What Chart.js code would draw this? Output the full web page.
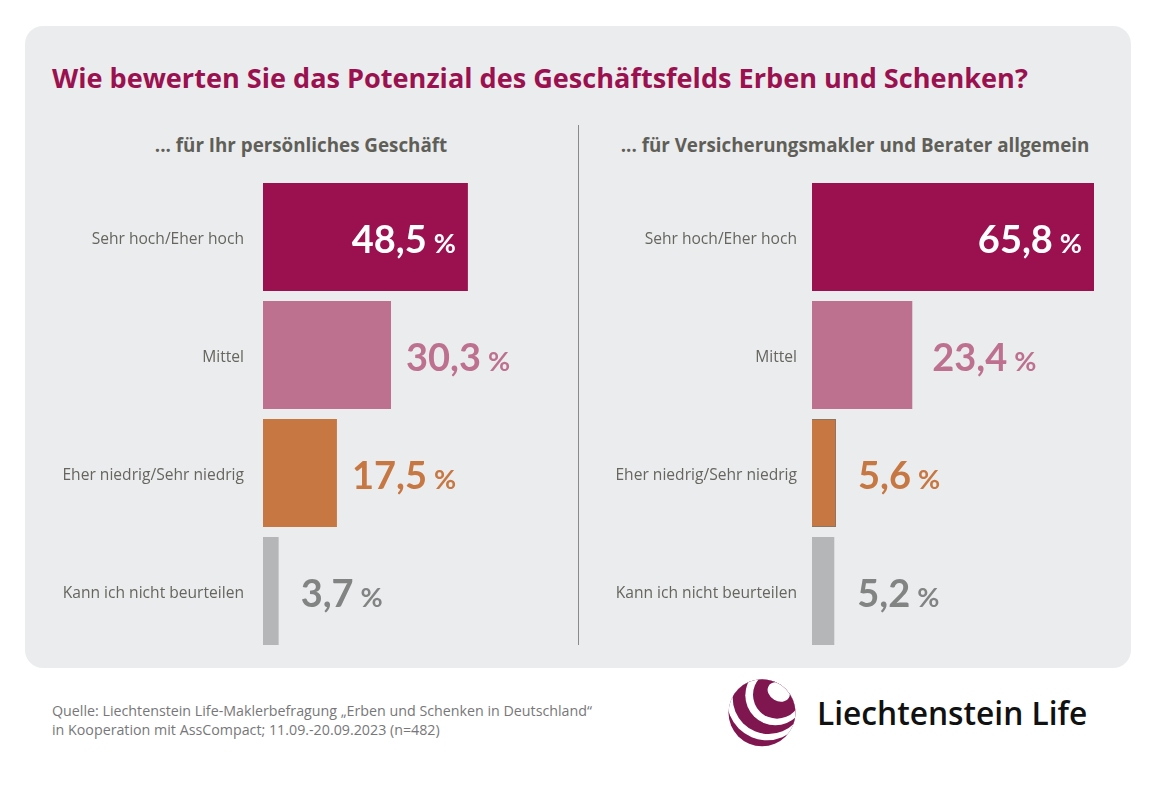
<!DOCTYPE html>
<html lang="de">
<head>
<meta charset="utf-8">
<title>Erben und Schenken</title>
<script src="https://cdn.jsdelivr.net/npm/chart.js@4"></script>
<style>
  html, body { margin: 0; padding: 0; background: #fff; }
  body { position: relative; width: 1156px; height: 787px; overflow: hidden; font-family: "Open Sans", sans-serif; }
  #panel { position: absolute; left: 25px; top: 26px; width: 1106px; height: 642px; background: #ebecee; border-radius: 18px; }
  #title { position: absolute; left: 52px; top: 60px; font-size: 27.1px; line-height: 36px; font-weight: 700; color: #9b1150; white-space: nowrap; }
  .sub { position: absolute; top: 132px; font-size: 18.8px; line-height: 26px; font-weight: 700; color: #5f5f58; text-align: center; white-space: nowrap; }
  #divider { position: absolute; left: 578px; top: 125px; width: 1px; height: 520px; background: #8a8a86; }
  canvas { position: absolute; top: 178px; }
  #source { position: absolute; left: 52px; top: 701px; font-size: 14.25px; line-height: 19px; color: #77777a; white-space: nowrap; }
  #logo { position: absolute; left: 720px; top: 672px; }
  #brand { position: absolute; left: 817px; top: 691px; font-size: 31.7px; line-height: 44px; font-weight: 600; color: #111; white-space: nowrap; }
</style>
</head>
<body>
<div id="panel"></div>
<div id="title">Wie bewerten Sie das Potenzial des Geschäftsfelds Erben und Schenken?</div>
<div class="sub" style="left:101px;width:400px">... für Ihr persönliches Geschäft</div>
<div class="sub" style="left:605px;width:500px">... für Versicherungsmakler und Berater allgemein</div>
<div id="divider"></div>
<canvas id="chartLeft" width="520" height="472" style="left:40px;width:520px;height:472px"></canvas>
<canvas id="chartRight" width="520" height="472" style="left:589px;width:520px;height:472px"></canvas>
<div id="source">Quelle: Liechtenstein Life-Maklerbefragung „Erben und Schenken in Deutschland“<br>in Kooperation mit AssCompact; 11.09.-20.09.2023 (n=482)</div>
<svg id="logo" width="84" height="84" viewBox="720 672 84 84">
  <defs><clipPath id="ball"><circle cx="762" cy="712.7" r="33.5"/></clipPath></defs>
  <g clip-path="url(#ball)">
    <rect x="720" y="672" width="84" height="84" fill="#7f1650"/>
    <circle cx="767" cy="700.3" r="40" fill="#fff"/>
    <circle cx="768.7" cy="698" r="36" fill="#7f1650"/>
    <circle cx="775.3" cy="695.3" r="30" fill="#fff"/>
    <circle cx="777" cy="694.7" r="24" fill="#7f1650"/>
    <ellipse cx="778.7" cy="692" rx="11.7" ry="9" transform="rotate(30 778.7 692)" fill="#fff"/>
  </g>
</svg>
<div id="brand">Liechtenstein Life</div>

<script>
const categories = ['Sehr hoch/Eher hoch', 'Mittel', 'Eher niedrig/Sehr niedrig', 'Kann ich nicht beurteilen']
const personalValues = [48.5, 30.3, 17.5, 3.7]
const generalValues = [65.8, 23.4, 5.6, 5.2]
const barColors = ['#9b1150', '#bd718f', '#c67742', '#b5b6b8']
const labelColors = ['#ffffff', '#bd718f', '#c67742', '#828383']
const personalGaps = [0, 15, 15, 22]
const generalGaps = [0, 20, 22, 23]

const fontFamily = '"Open Sans", sans-serif'

const valueLabels = {
  id: 'valueLabels',
  afterDatasetsDraw(chart, args, opts) {
    const { ctx, scales: { x, y } } = chart
    const values = chart.data.datasets[0].data
    ctx.save()
    ctx.textBaseline = 'alphabetic'
    values.forEach((v, i) => {
      const num = v.toFixed(1).replace('.', ',')
      const barEnd = x.getPixelForValue(v)
      const base = y.getPixelForValue(i) + 16
      const numFont = '700 38px Lato, sans-serif'
      const pctFont = '700 27px Lato, sans-serif'
      ctx.font = numFont
      const numW = ctx.measureText(num).width
      ctx.font = pctFont
      const pctW = ctx.measureText('%').width
      const gap = 7
      // nur der erste Balken hat das Label innen
      const left = i === 0 ? barEnd - 12 - pctW - gap - numW : barEnd + opts.gaps[i]
      ctx.fillStyle = labelColors[i]
      ctx.font = numFont
      ctx.fillText(num, left, base)
      ctx.font = pctFont
      ctx.fillText('%', left + numW + gap, base)
    })
    ctx.restore()
  },
}

function drawPanel(id, values, gaps, xMax, borderWidths, tickPad) {
  return new Chart(document.getElementById(id), {
    type: 'bar',
    data: {
      labels: categories,
      datasets: [{
        data: values,
        backgroundColor: barColors,
        borderColor: '#8f7560',
        borderWidth: borderWidths,
        barPercentage: 108 / 118,
        categoryPercentage: 1,
      }],
    },
    plugins: [valueLabels],
    options: {
      indexAxis: 'y',
      responsive: false,
      animation: false,
      layout: { padding: 0 },
      plugins: {
        legend: { display: false },
        tooltip: { enabled: false },
        valueLabels: { gaps },
      },
      scales: {
        x: { display: false, min: 0, max: xMax },
        y: {
          // tick padding would otherwise shrink the plot height too
          afterFit(scale) {
            scale.width = 223
            scale.paddingTop = 0
            scale.paddingBottom = 0
          },
          grid: { display: false },
          border: { display: false },
          ticks: {
            color: '#66665e',
            padding: tickPad,
            labelOffset: 3,
            autoSkip: false,
            font: { family: fontFamily, size: 15.6 },
          },
        },
      },
    },
  })
}

drawPanel('chartLeft', personalValues, personalGaps, 70.3, [0, 0, 0, 0], 11)
drawPanel('chartRight', generalValues, generalGaps, 69.3, [0, 0, 1, 0], 7)
</script>
</body>
</html>
